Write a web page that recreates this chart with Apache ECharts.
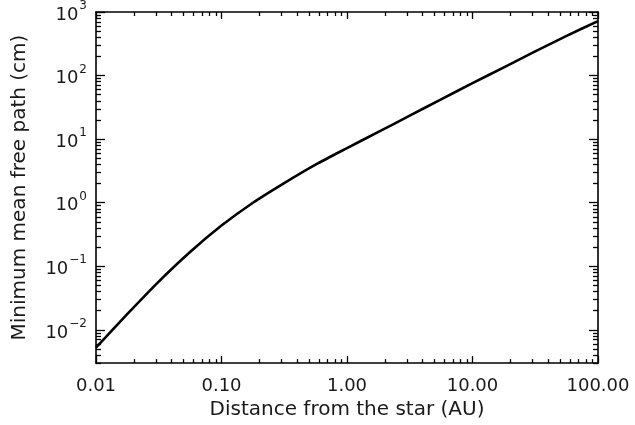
<!DOCTYPE html>
<html>
<head>
<meta charset="utf-8">
<script src="https://cdn.jsdelivr.net/npm/echarts@6/dist/echarts.min.js"></script>
<style>
html,body{margin:0;padding:0;background:#fff;}
#chart{width:635px;height:425px;}
</style>
</head>
<body>
<div id="chart"></div>
<script>
// Data (distance in AU, minimum mean free path in cm)
const distanceAU = [0.01, 0.0178, 0.0316, 0.0562, 0.1, 0.178, 0.316, 0.562, 1, 1.78, 3.16, 5.62, 10, 17.8, 31.6, 56.2, 100];
const meanFreePathCm = [0.00525, 0.0178, 0.0575, 0.168, 0.437, 1.0, 2.04, 3.98, 7.24, 13.0, 23.4, 42.2, 75.9, 135, 240, 422, 720];

// Axis ranges (data units) and tick labels
const xRange = [0.01, 100];
const yRange = [0.003, 1000];
const xTickValues = [0.01, 0.1, 1, 10, 100];
const xTickLabels = ['0.01', '0.10', '1.00', '10.00', '100.00'];
const yTickExponents = [-2, -1, 0, 1, 2, 3];
const minorMultiples = [2, 3, 4, 5, 6, 7, 8, 9];

const L = Math.log10;
const xMin = L(xRange[0]), xMax = L(xRange[1]);
const yMin = L(yRange[0]), yMax = L(yRange[1]);

function minorTicks(lo, hi) {
  const out = [];
  for (let d = Math.floor(lo) - 1; d <= Math.ceil(hi); d++) {
    minorMultiples.forEach(m => {
      const v = d + L(m);
      if (v >= lo - 1e-9 && v <= hi + 1e-9) out.push(v);
    });
  }
  return out;
}

const xMajor = xTickValues.map(L);
const yMajor = yTickExponents.slice();
const xMinor = minorTicks(xMin, xMax);
const yMinor = minorTicks(yMin, yMax);

const FONT = 'DejaVu Sans';
const TXT = '#1a1a1a';
const LINE = {show: true, onZero: false, lineStyle: {color: '#000', width: 1.6}};
const NOLINE = {show: false, onZero: false};

function xAx(pos, ticks, len, showLine, labels) {
  return {
    type: 'value', position: pos, min: xMin, max: xMax, gridIndex: 0,
    axisLine: showLine ? LINE : NOLINE,
    splitLine: {show: false},
    axisTick: {show: true, inside: true, length: len, customValues: ticks, lineStyle: {color: '#000', width: 1.3}},
    axisLabel: labels ? {
      show: true, customValues: xMajor, margin: 14, fontFamily: FONT, fontSize: 18, color: TXT,
      formatter: v => { const i = xMajor.findIndex(t => Math.abs(t - v) < 1e-6); return i >= 0 ? xTickLabels[i] : ''; }
    } : {show: false}
  };
}
function yAx(pos, ticks, len, showLine, labels) {
  return {
    type: 'value', position: pos, min: yMin, max: yMax, gridIndex: 0,
    axisLine: showLine ? LINE : NOLINE,
    splitLine: {show: false},
    axisTick: {show: true, inside: true, length: len, customValues: ticks, lineStyle: {color: '#000', width: 1.3}},
    axisLabel: labels ? {
      show: true, customValues: yMajor, margin: 9, fontFamily: FONT, color: TXT,
      formatter: v => { const e = Math.round(v); return '{b|10}{s|' + (e < 0 ? '\u2212' + (-e) : e) + '}'; },
      rich: {
        b: {fontFamily: FONT, fontSize: 18, color: TXT, lineHeight: 24, verticalAlign: 'bottom'},
        s: {fontFamily: FONT, fontSize: 12, color: TXT, lineHeight: 24, verticalAlign: 'top', padding: [0, 0, 0, 1]}
      }
    } : {show: false}
  };
}

const xAxes = [
  xAx('bottom', xMajor, 7, true, true),
  xAx('bottom', xMinor, 4, false, false),
  xAx('top', xMajor, 7, true, false),
  xAx('top', xMinor, 4, false, false)
];
xAxes[0].name = 'Distance from the star (AU)';
xAxes[0].nameLocation = 'middle';
xAxes[0].nameGap = 35;
xAxes[0].nameTextStyle = {fontFamily: FONT, fontSize: 20, color: TXT};

const yAxes = [
  yAx('left', yMajor, 9, true, true),
  yAx('left', yMinor, 5, false, false),
  yAx('right', yMajor, 9, true, false),
  yAx('right', yMinor, 5, false, false)
];
yAxes[0].name = 'Minimum mean free path (cm)';
yAxes[0].nameLocation = 'middle';
yAxes[0].nameGap = 66;
yAxes[0].nameRotate = 90;
yAxes[0].nameTextStyle = {fontFamily: FONT, fontSize: 20, color: TXT};

const chart = echarts.init(document.getElementById('chart'), null, {renderer: 'canvas'});
chart.setOption({
  animation: false,
  backgroundColor: '#fff',
  grid: {left: 96, right: 37, top: 8, bottom: 61, containLabel: false},
  xAxis: xAxes,
  yAxis: yAxes,
  series: [{
    type: 'line',
    xAxisIndex: 0, yAxisIndex: 0,
    data: distanceAU.map((d, i) => [L(d), L(meanFreePathCm[i])]),
    smooth: 0.25,
    symbol: 'none',
    lineStyle: {color: '#000', width: 2.6, join: 'round'},
    clip: true
  }]
});
</script>
</body>
</html>
